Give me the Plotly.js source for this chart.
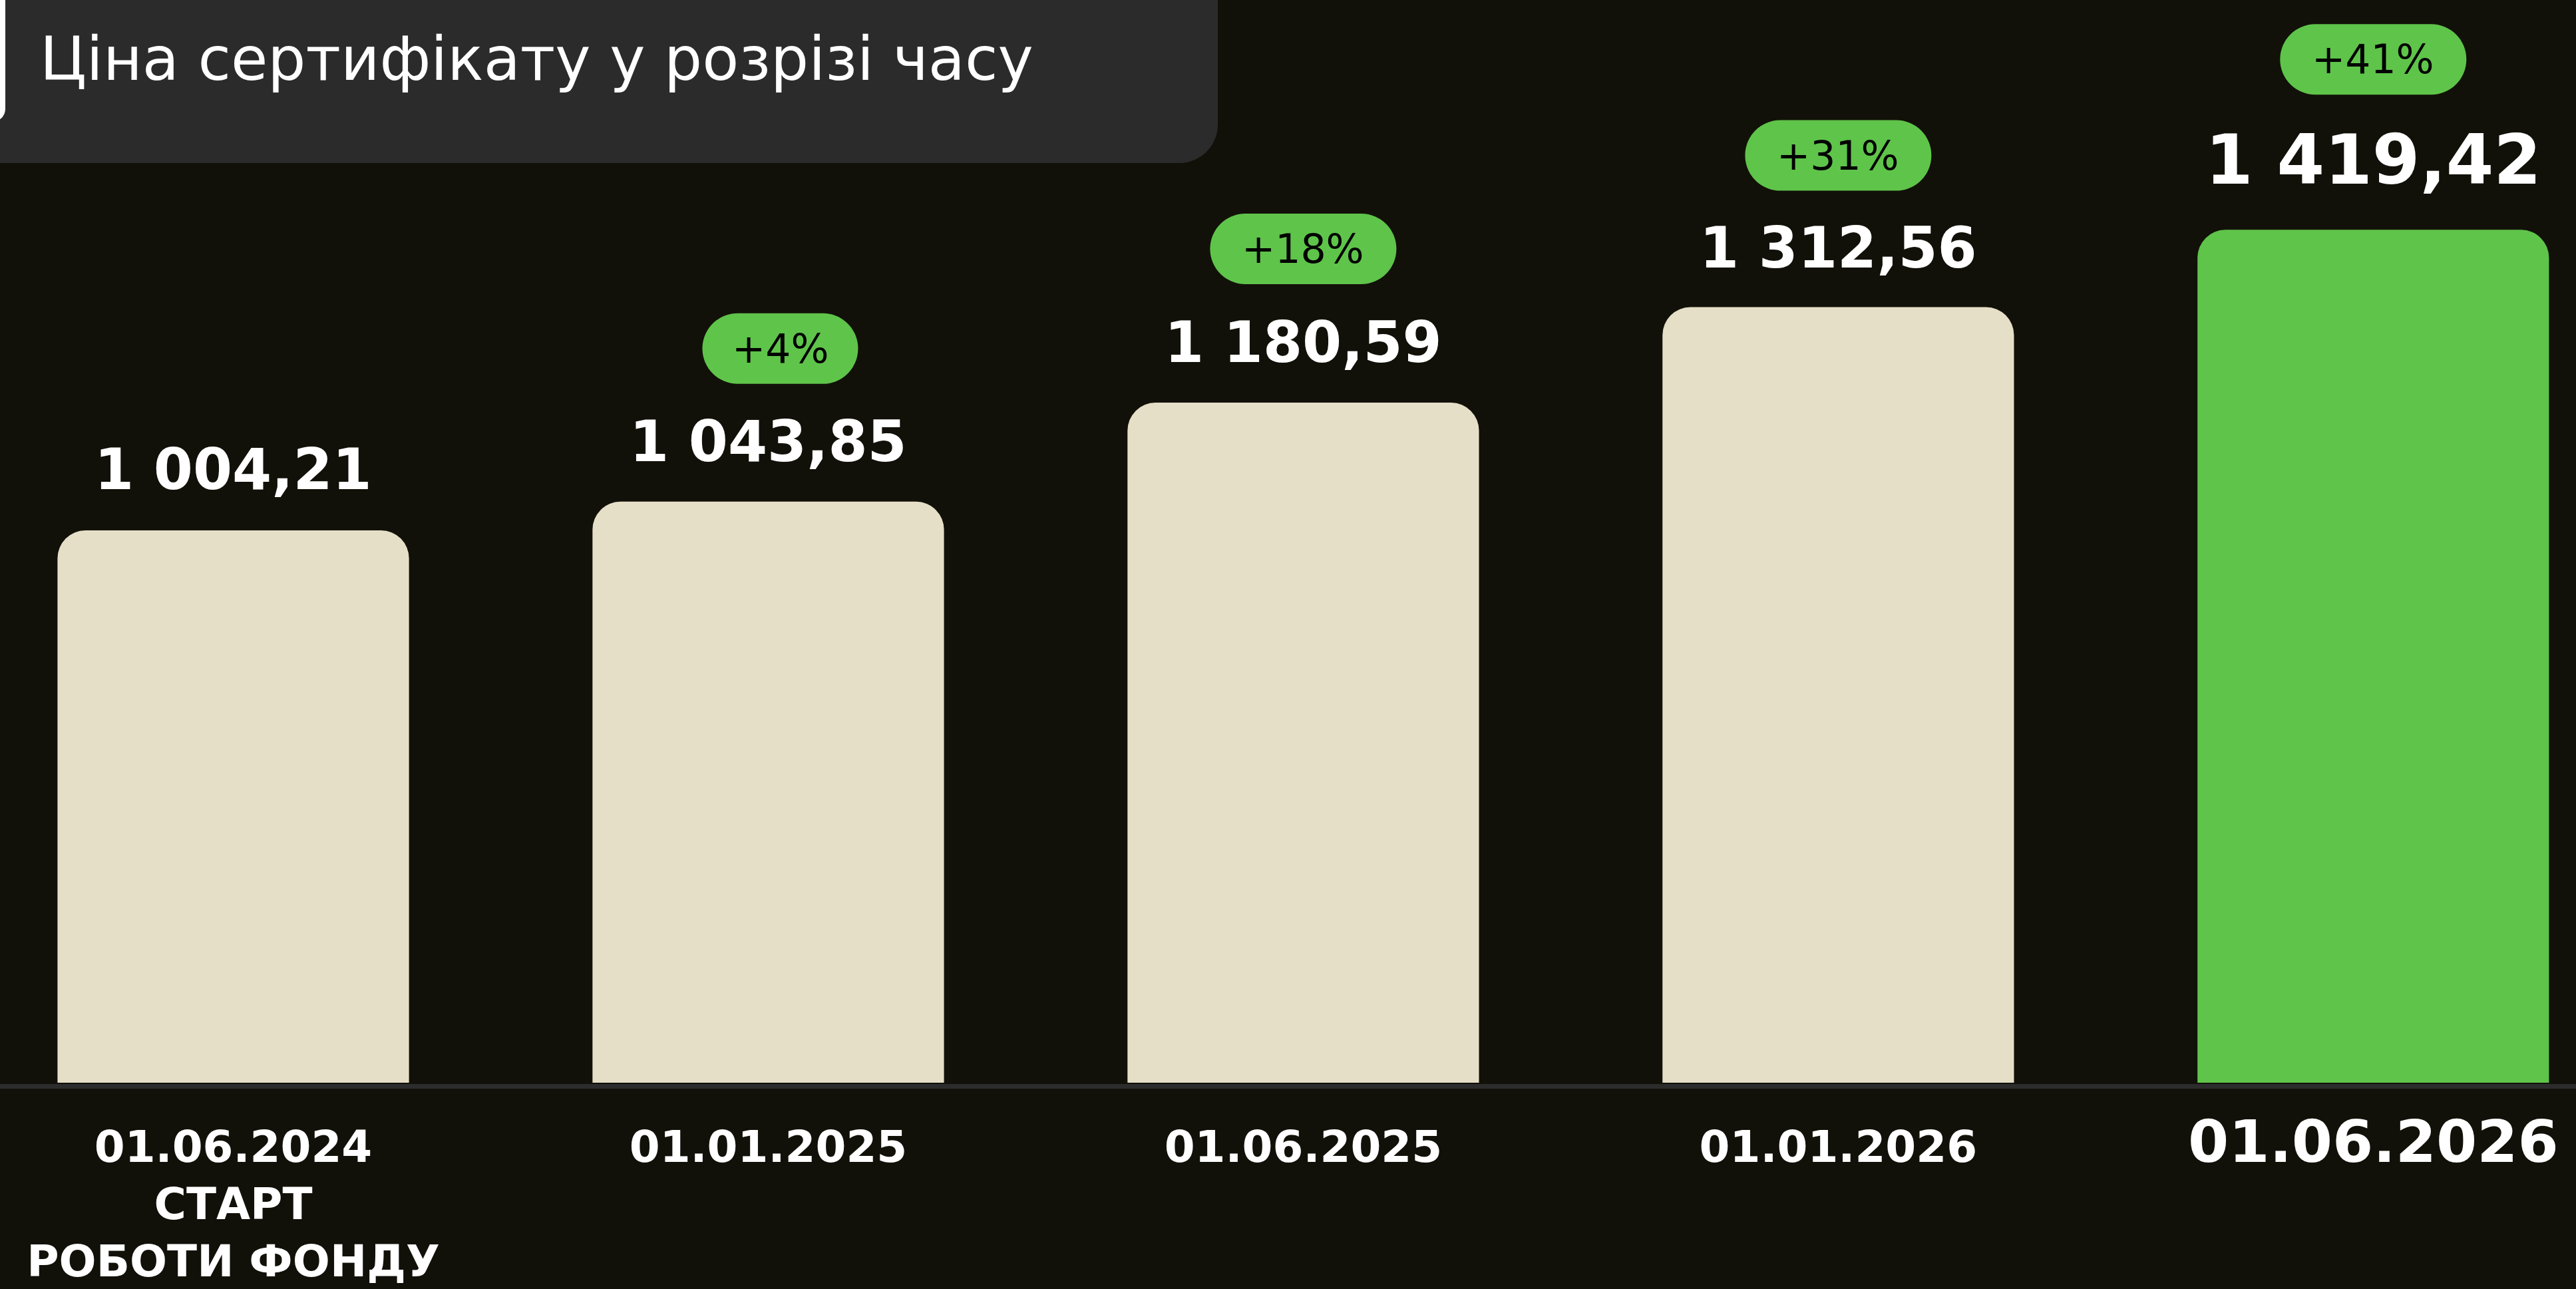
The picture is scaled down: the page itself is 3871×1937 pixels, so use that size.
<!DOCTYPE html>
<html>
<head>
<meta charset="utf-8">
<script src="https://cdn.plot.ly/plotly-3.0.1.min.js"></script>
<style>
html,body{margin:0;padding:0;background:#121109;overflow:hidden}
#chart{width:3871px;height:1937px}
</style>
</head>
<body>
<div id="chart"></div>
<script>
// ---- data ----
const dates = ["01.06.2024", "01.01.2025", "01.06.2025", "01.01.2026", "01.06.2026"];
const tickLabels = ["01.06.2024<br>СТАРТ<br>РОБОТИ ФОНДУ", "01.01.2025", "01.06.2025", "01.01.2026", "<span style=\"font-size:88px\">01.06.2026</span>"];
const prices = [1004.21, 1043.85, 1180.59, 1312.56, 1419.42];
const priceLabels = ["1 004,21", "1 043,85", "1 180,59", "1 312,56", "1 419,42"];
const growthLabels = [null, "+4%", "+18%", "+31%", "+41%"];
const titleText = "Ціна сертифікату у розрізі часу";

// ---- styles ----
const BG = "#121109";
const BEIGE = "#e6dfc7";
const GREEN = "#5fc44a";
const barColors = [BEIGE, BEIGE, BEIGE, BEIGE, GREEN];
const labelSize = [85, 85, 85, 85, 103];
const labelShift = [91, 90, 91, 89, 105];
const pillShift = [0, 230, 231, 228, 256];
const pillXShift = [0, 18, 0, 0, 0];
const FONT = "DejaVu Sans";

const annotations = [];
const shapes = [];

// title box (top-left, rounded bottom-right corner)
shapes.push({
  type: "path", xref: "paper", yref: "paper", xsizemode: "pixel", ysizemode: "pixel",
  xanchor: 0, yanchor: 1, layer: "below",
  path: "M-20,20 L1830,20 L1830,-187 C1830,-219 1804,-245 1772,-245 L-20,-245 Z",
  fillcolor: "#2b2b2b", line: {width: 0}
});
// white edge at far left
shapes.push({
  type: "path", xref: "paper", yref: "paper", xsizemode: "pixel", ysizemode: "pixel",
  xanchor: 0, yanchor: 1, layer: "below",
  path: "M-60,20 L8,20 L8,-163 C8,-174 0,-183 -12,-183 L-60,-183 Z",
  fillcolor: "#ffffff", line: {width: 0}
});
// baseline
shapes.push({
  type: "line", xref: "paper", yref: "paper", ysizemode: "pixel", yanchor: 0,
  x0: 0, x1: 1, y0: -5.5, y1: -5.5, layer: "above",
  line: {color: "#2c2c2c", width: 7}
});

annotations.push({
  xref: "paper", yref: "paper", x: 58 / 3871, y: 1 - 88 / 1627,
  xanchor: "left", yanchor: "middle", showarrow: false,
  text: titleText, font: {family: FONT, size: 90, color: "#ffffff"}
});

dates.forEach((d, i) => {
  annotations.push({
    x: d, y: prices[i], xref: "x", yref: "y", showarrow: false,
    xanchor: "center", yanchor: "middle", yshift: labelShift[i],
    text: priceLabels[i],
    font: {family: FONT, size: labelSize[i], color: "#ffffff", weight: 700}
  });
  if (growthLabels[i]) {
    const w = growthLabels[i].length <= 3 ? 234 : 280;
    const dx = pillXShift[i];
    const r = 53, a = w / 2 - r, k = 0.5523 * r, cy = pillShift[i];
    const p = (x, y) => (x + dx).toFixed(1) + "," + (y + cy).toFixed(1);
    const path = "M" + p(-a, r) + " L" + p(a, r) +
      " C" + p(a + k, r) + " " + p(a + r, k) + " " + p(a + r, 0) +
      " C" + p(a + r, -k) + " " + p(a + k, -r) + " " + p(a, -r) +
      " L" + p(-a, -r) +
      " C" + p(-a - k, -r) + " " + p(-a - r, -k) + " " + p(-a - r, 0) +
      " C" + p(-a - r, k) + " " + p(-a - k, r) + " " + p(-a, r) + " Z";
    shapes.push({
      type: "path", xref: "x", yref: "y", xsizemode: "pixel", ysizemode: "pixel",
      xanchor: d, yanchor: prices[i], path: path,
      fillcolor: GREEN, line: {width: 0}, layer: "above"
    });
    annotations.push({
      x: d, y: prices[i], xref: "x", yref: "y", showarrow: false,
      xanchor: "center", yanchor: "middle", yshift: pillShift[i], xshift: dx,
      text: growthLabels[i],
      font: {family: FONT, size: 60, color: "#000000"}
    });
  }
});

const trace = {
  type: "bar", x: dates, y: prices,
  marker: {color: barColors, cornerradius: 42, line: {width: 0}},
  hoverinfo: "skip"
};

const layout = {
  width: 3871, height: 1937,
  paper_bgcolor: BG, plot_bgcolor: BG,
  margin: {l: 0, r: 0, t: 0, b: 310, pad: 0},
  bargap: 0.343,
  showlegend: false,
  xaxis: {
    type: "category", range: [-0.436, 4.379],
    tickmode: "array", tickvals: dates, ticktext: tickLabels,
    ticks: "", showgrid: false, zeroline: false, showline: false,
    ticklabelstandoff: 52,
    tickfont: {family: FONT, size: 66, color: "#ffffff", weight: 700},
    fixedrange: true
  },
  yaxis: {
    range: [241.1, 1736.9], visible: false, showgrid: false, zeroline: false, fixedrange: true
  },
  shapes: shapes,
  annotations: annotations
};

Plotly.newPlot("chart", [trace], layout, {displayModeBar: false, staticPlot: true});
</script>
</body>
</html>
